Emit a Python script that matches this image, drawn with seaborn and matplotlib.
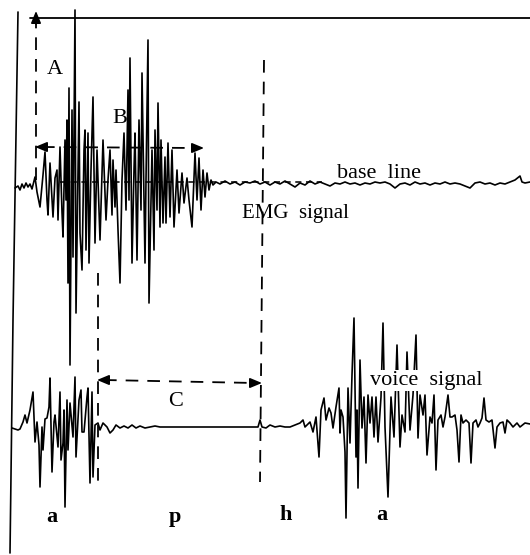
import numpy as np
import pandas as pd
import matplotlib
matplotlib.use("Agg")
import matplotlib.pyplot as plt
import seaborn as sns

# ---------------- data ----------------
# EMG trace: time positions and amplitude relative to its base line (up = +)
emg_t = [15, 18, 20, 22, 24, 26, 28, 30, 32, 35, 37, 40, 43, 45, 47, 48, 50, 53, 55, 57,
         58, 60, 62, 63, 65, 66, 67, 68, 69, 70, 72, 73, 75, 76, 79, 80, 82, 84, 85, 86,
         88, 89, 91, 93, 95, 97, 99, 100, 103, 106, 108, 110, 112, 113, 115, 116, 118, 120, 122, 124,
         126, 128, 129, 130, 132, 134, 135, 137, 139, 141, 142, 145, 146, 148, 149, 152, 154, 155, 157, 158,
         160, 161, 163, 165, 166, 168, 170, 172, 174, 177, 179, 182, 184, 187, 189, 192, 195, 197, 199, 201,
         203, 205, 207, 209, 211, 213, 216, 220, 225, 230, 235, 240, 245, 250, 255, 260, 265, 270, 275, 280,
         285, 290, 295, 300, 305, 310, 315, 320, 325, 330, 335, 340, 345, 350, 355, 360, 365, 370, 375, 380,
         385, 390, 395, 400, 405, 410, 415, 420, 425, 430, 435, 440, 445, 450, 455, 460, 465, 470, 475, 480,
         485, 490, 495, 500, 505, 510, 515, 520, 522, 525, 530]
emg_amp = [-3, -1, -5, 1, -3, 2, -2, 1, -4, 8, -7, -22, 10, 33, -15, -30, 22, -32, 7, 15,
           -35, 38, -27, -52, 45, -15, 65, -98, 97, -180, 75, -72, 175, -128, 83, -48, -85, 35, 55, -65,
           52, -78, 15, 88, -58, 35, -25, -55, 45, -35, 5, 35, -30, 25, -22, 15, -45, -98, 5, 52,
           -25, 95, -15, 127, -78, 15, 52, -75, 65, -25, 112, -78, 5, 145, -118, 35, -65, 55, -25, 82,
           -42, 45, -38, 28, -38, 42, -32, 35, -42, 15, -28, 12, -18, 7, -15, -42, 32, -15, 27, -25,
           15, -12, 12, -5, 5, 0, 3, 1, 4, 1, 3, 0, 3, 2, 4, 1, 3, 0, 3, 1,
           4, 1, -2, 2, 0, 4, 1, 3, 1, -1, 2, 1, 3, 1, 2, 0, 2, 1, 3, 2,
           3, 1, -3, 1, 2, 0, 3, 1, 2, 0, 2, 1, 3, 1, 2, 1, -1, -3, 2, 3,
           1, 2, 0, 2, 1, 3, 5, 9, 3, 2, 3]

# Voice trace: time positions and amplitude relative to its base line (up = +)
voice_t = [12, 15, 18, 20, 23, 25, 27, 30, 33, 35, 37, 39, 40, 42, 43, 45, 47, 49, 50, 52,
           54, 55, 58, 60, 61, 63, 64, 65, 67, 68, 70, 73, 75, 76, 79, 81, 82, 84, 87, 88,
           90, 92, 93, 95, 98, 100, 103, 107, 110, 113, 116, 120, 124, 128, 132, 136, 140, 145, 150, 155,
           160, 200, 255, 258, 260, 262, 266, 270, 275, 280, 285, 290, 295, 300, 303, 305, 308, 310, 313, 316,
           319, 321, 324, 326, 329, 331, 333, 336, 339, 340, 341, 343, 345, 346, 348, 350, 352, 354, 356, 357,
           358, 360, 362, 364, 366, 368, 370, 372, 374, 376, 378, 381, 383, 385, 388, 391, 394, 397, 400, 402,
           405, 407, 410, 413, 416, 418, 420, 423, 425, 427, 430, 432, 434, 436, 438, 441, 443, 445, 448, 450,
           452, 455, 457, 459, 461, 463, 466, 469, 471, 473, 476, 478, 480, 482, 484, 486, 489, 492, 495, 497,
           500, 503, 505, 507, 510, 513, 517, 520, 525, 530]
voice_amp = [-1, -2, -3, -2, 5, 12, 4, 17, 35, -15, 5, -18, -60, 0, -23, 8, 9, 20, 49, -45,
             5, 12, -20, 35, -33, -16, 17, -80, 27, -23, 24, -10, 50, -30, 27, 37, -5, -5, 30, 39,
             -56, 35, -50, 2, 4, -3, 4, 0, -6, -3, 2, -1, 1, -1, 2, -1, 1, -1, 0, 1,
             0, 0, 0, 0, 7, 0, -1, 2, 0, 1, 0, 0, 2, 4, 7, 0, 3, 5, -5, 10,
             -30, 17, 29, 7, 19, 14, -1, 20, 39, -6, 17, 10, -25, -91, 39, -16, 52, 109, -30, 17,
             -61, 67, -1, 30, -36, 32, 4, 30, -10, 30, -15, 30, 104, 0, -70, 30, -10, 82, -20, 12,
             -5, 75, -3, 32, 92, -11, 32, 12, 32, -28, 10, 4, 32, -43, 7, 12, 0, 10, 32, 10,
             10, 12, -3, -35, 12, 4, 7, 4, -36, 4, 7, 0, 4, 9, 29, 7, 5, 7, -21, 0,
             4, 5, -6, 7, 4, 0, 4, 0, 4, 3]

interval_labels = ["A", "B", "C"]
phoneme_labels = ["a", "p", "h", "a"]
trace_labels = ["base  line", "EMG  signal", "voice  signal"]

# ---------------- layout constants ----------------
EMG_BASE = 185
VOICE_BASE = 427

sns.set_theme(style="white")
plt.rcParams["font.family"] = ["Liberation Serif", "DejaVu Serif"]
plt.rcParams["text.color"] = "black"

fig = plt.figure(figsize=(5.3, 5.55), dpi=100)
fig.patch.set_facecolor("white")
ax = fig.add_axes([0, 0, 1, 1])

emg_df = pd.DataFrame({"t": emg_t, "y": EMG_BASE - np.asarray(emg_amp)})
voice_df = pd.DataFrame({"t": voice_t, "y": VOICE_BASE - np.asarray(voice_amp)})

sns.lineplot(data=emg_df, x="t", y="y", sort=False, estimator=None,
             color="black", linewidth=1.2, ax=ax)
sns.lineplot(data=voice_df, x="t", y="y", sort=False, estimator=None,
             color="black", linewidth=1.2, ax=ax)

ax.set_xlim(0, 530)
ax.set_ylim(555, 0)
ax.axis("off")

k = "black"
dash = (0, (7, 5))
# frame lines
ax.plot([18, 13, 10], [12, 320, 553], color=k, lw=1.2)
ax.plot([30, 530], [18, 18], color=k, lw=1.3)

# dashed guides
ax.plot([36, 36], [180, 22], color=k, lw=1.3, ls=dash)           # A
ax.plot([42, 196], [147, 148], color=k, lw=1.3, ls=dash)         # B
ax.plot([104, 255], [380, 383], color=k, lw=1.3, ls=dash)        # C
ax.plot([98, 98], [273, 485], color=k, lw=1.3, ls=dash)
ax.plot([264, 260], [60, 482], color=k, lw=1.3, ls=dash)
ax.plot([60, 322], [182, 182], color=k, lw=1.1, ls=(0, (4, 3)))  # base line


def head(tip, frm):
    ax.annotate("", xy=tip, xytext=frm,
                arrowprops=dict(arrowstyle="-|>,head_length=0.6,head_width=0.25",
                                color=k, lw=1.2, shrinkA=0, shrinkB=0))


head((36, 11), (36, 24))
head((35, 147), (46, 147))
head((204, 148), (193, 148))
head((97, 380), (108, 380))
head((262, 383), (251, 383))

fs = 16
ax.text(55, 74, interval_labels[0], fontsize=fs, color=k, ha="center", va="baseline")
ax.text(120, 123, interval_labels[1], fontsize=fs, color=k, ha="center", va="baseline")
ax.text(176, 406, interval_labels[2], fontsize=fs, color=k, ha="center", va="baseline")

ax.text(337, 178, trace_labels[0], fontsize=16, color=k, ha="left", va="baseline")
ax.text(242, 218, trace_labels[1], fontsize=15, color=k, ha="left", va="baseline")
ax.text(370, 385, trace_labels[2], fontsize=16, color=k, ha="left", va="baseline",
        bbox=dict(facecolor="white", edgecolor="none", pad=0.5))

for lbl, x, y in zip(phoneme_labels, [52, 175, 286, 382], [522, 522, 520, 520]):
    ax.text(x, y, lbl, fontsize=16, fontweight="bold", color=k, ha="center", va="baseline")

fig.savefig("out.png", dpi=100, facecolor="white")
